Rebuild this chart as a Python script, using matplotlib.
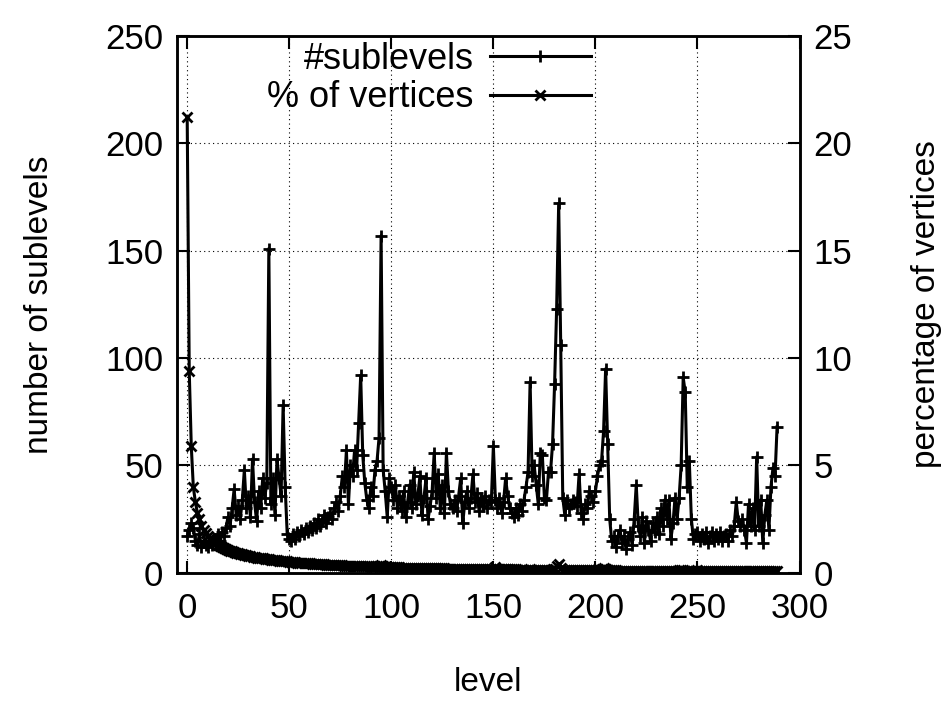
import numpy as np
import matplotlib
matplotlib.use("Agg")
import matplotlib.pyplot as plt

plt.rcParams['font.family'] = ['Liberation Sans', 'DejaVu Sans']

# number of sublevels per level (levels 0..289)
sublevels = [
    17, 20, 23, 21, 15, 13, 18, 12, 15, 13,
    12, 15, 13, 16, 14, 18, 15, 19, 17, 21,
    26, 22, 30, 39, 27, 31, 25, 34, 48, 30,
    36, 26, 53, 33, 24, 38, 30, 44, 35, 42,
    151, 32, 44, 27, 53, 44, 36, 78, 40, 18,
    16, 15, 18, 16, 19, 17, 20, 18, 21, 19,
    22, 20, 23, 21, 25, 22, 24, 27, 23, 26,
    28, 25, 30, 33, 29, 36, 45, 40, 57, 32,
    50, 45, 57, 48, 70, 92, 55, 42, 34, 30,
    40, 36, 48, 52, 63, 157, 48, 38, 26, 44,
    40, 34, 41, 30, 36, 29, 38, 26, 33, 41,
    30, 47, 32, 36, 45, 27, 35, 44, 25, 31,
    38, 56, 35, 46, 30, 41, 28, 56, 38, 32,
    30, 34, 29, 36, 44, 23, 33, 38, 30, 35,
    46, 33, 37, 29, 35, 31, 36, 30, 34, 33,
    59, 34, 30, 35, 28, 33, 44, 36, 30, 28,
    26, 30, 27, 32, 29, 34, 40, 47, 89, 45,
    50, 41, 32, 56, 55, 35, 34, 47, 47, 60,
    88, 123, 172, 106, 35, 27, 34, 30, 32, 34,
    33, 31, 46, 28, 25, 32, 30, 38, 36, 33,
    38, 45, 50, 52, 66, 95, 60, 25, 15, 17,
    12, 17, 20, 14, 17, 11, 16, 19, 13, 25,
    41, 22, 17, 26, 14, 24, 20, 15, 23, 19,
    26, 18, 30, 22, 34, 25, 34, 16, 23, 35,
    25, 35, 50, 91, 84, 40, 52, 25, 16, 18,
    19, 15, 18, 16, 19, 14, 17, 19, 15, 18,
    16, 19, 15, 17, 18, 15, 20, 17, 22, 33,
    24, 22, 25, 20, 14, 32, 22, 30, 20, 54,
    22, 34, 14, 27, 34, 20, 40, 49, 45, 68,
]

# percentage of vertices per level
pct_vertices = [
    21.2, 9.4, 5.9, 4.0, 3.3, 2.8, 2.5, 2.2, 2.0, 1.85,
    1.72, 1.62, 1.53, 1.45, 1.38, 1.32, 1.26, 1.21, 1.16, 1.12,
    1.08, 1.04, 1.0, 0.97, 0.94, 0.91, 0.88, 0.86, 0.83, 0.81,
    0.79, 0.77, 0.75, 0.73, 0.71, 0.7, 0.68, 0.67, 0.65, 0.64,
    0.63, 0.62, 0.6, 0.59, 0.58, 0.57, 0.56, 0.55, 0.54, 0.53,
    0.52, 0.51, 0.5, 0.49, 0.48, 0.48, 0.47, 0.46, 0.45, 0.45,
    0.44, 0.43, 0.43, 0.42, 0.41, 0.41, 0.4, 0.4, 0.39, 0.38,
    0.38, 0.37, 0.37, 0.36, 0.36, 0.35, 0.35, 0.34, 0.34, 0.33,
    0.33, 0.33, 0.32, 0.32, 0.31, 0.31, 0.31, 0.3, 0.3, 0.3,
    0.29, 0.29, 0.29, 0.3, 0.33, 0.38, 0.3, 0.28, 0.28, 0.27,
    0.27, 0.27, 0.26, 0.26, 0.26, 0.25, 0.25, 0.25, 0.25, 0.24,
    0.24, 0.24, 0.24, 0.23, 0.23, 0.23, 0.23, 0.22, 0.22, 0.22,
    0.22, 0.22, 0.21, 0.21, 0.21, 0.21, 0.21, 0.2, 0.2, 0.2,
    0.2, 0.2, 0.2, 0.19, 0.19, 0.19, 0.19, 0.19, 0.19, 0.18,
    0.18, 0.18, 0.18, 0.18, 0.18, 0.18, 0.17, 0.17, 0.17, 0.17,
    0.2, 0.26, 0.18, 0.17, 0.17, 0.16, 0.16, 0.16, 0.16, 0.16,
    0.16, 0.16, 0.15, 0.15, 0.15, 0.15, 0.15, 0.15, 0.16, 0.15,
    0.15, 0.15, 0.15, 0.14, 0.14, 0.14, 0.14, 0.14, 0.15, 0.16,
    0.2, 0.32, 0.42, 0.25, 0.15, 0.14, 0.14, 0.13, 0.13, 0.13,
    0.13, 0.13, 0.13, 0.13, 0.13, 0.13, 0.12, 0.12, 0.12, 0.12,
    0.12, 0.13, 0.15, 0.19, 0.22, 0.17, 0.13, 0.12, 0.12, 0.12,
    0.12, 0.11, 0.11, 0.11, 0.11, 0.11, 0.11, 0.11, 0.11, 0.11,
    0.11, 0.11, 0.11, 0.11, 0.11, 0.1, 0.1, 0.1, 0.1, 0.1,
    0.1, 0.1, 0.1, 0.1, 0.1, 0.1, 0.1, 0.1, 0.1, 0.1,
    0.1, 0.12, 0.15, 0.12, 0.1, 0.1, 0.1, 0.1, 0.1, 0.1,
    0.12, 0.1, 0.1, 0.1, 0.1, 0.1, 0.09, 0.09, 0.09, 0.09,
    0.09, 0.09, 0.09, 0.09, 0.09, 0.09, 0.09, 0.09, 0.09, 0.09,
    0.09, 0.09, 0.09, 0.09, 0.09, 0.09, 0.09, 0.09, 0.09, 0.09,
    0.09, 0.09, 0.09, 0.08, 0.08, 0.08, 0.08, 0.08, 0.08, 0.08,
]

levels = np.arange(len(sublevels))

FS = 24
TICK_FS = 25

fig = plt.figure(figsize=(9.49, 7.17), dpi=100)
ax = fig.add_axes([0.1865, 0.201, 0.656, 0.749])
ax2 = ax.twinx()

l1, = ax.plot(levels, sublevels, color='black', lw=2.2, marker='+', ms=9, mew=2,
              label='#sublevels')
l2, = ax2.plot(levels, pct_vertices, color='black', lw=2.2, marker='x', ms=7, mew=2,
               label='% of vertices')

ax.set_xlim(-5, 300)
ax.set_ylim(0, 250)
ax2.set_ylim(0, 25)
ax.set_xticks(np.arange(0, 301, 50))
ax.set_yticks(np.arange(0, 251, 50))
ax2.set_yticks(np.arange(0, 26, 5))

ax.grid(True, color='black', linestyle=(0, (1, 3)), lw=0.8)
ax.tick_params(axis='x', direction='in', length=9, width=1.5, top=True, labelsize=TICK_FS, pad=14)
ax.tick_params(axis='y', direction='in', length=9, width=1.5, right=False, labelsize=TICK_FS, pad=10)
ax2.tick_params(axis='y', direction='in', length=9, width=1.5, labelsize=TICK_FS, pad=10)
for a in (ax, ax2):
    for s in a.spines.values():
        s.set_linewidth(1.8)

ax.set_xlabel('level', fontsize=FS, labelpad=30)
ax.set_ylabel('number of sublevels', fontsize=FS, labelpad=36)
ax2.set_ylabel('percentage of vertices', fontsize=FS, labelpad=42)

fig.legend(handles=[l1, l2], loc='upper right', bbox_to_anchor=(0.638, 0.962),
           frameon=False, markerfirst=False, fontsize=26, handlelength=2.8,
           handletextpad=0.45, labelspacing=0.1, borderaxespad=0)

fig.savefig('out.png', dpi=100)
